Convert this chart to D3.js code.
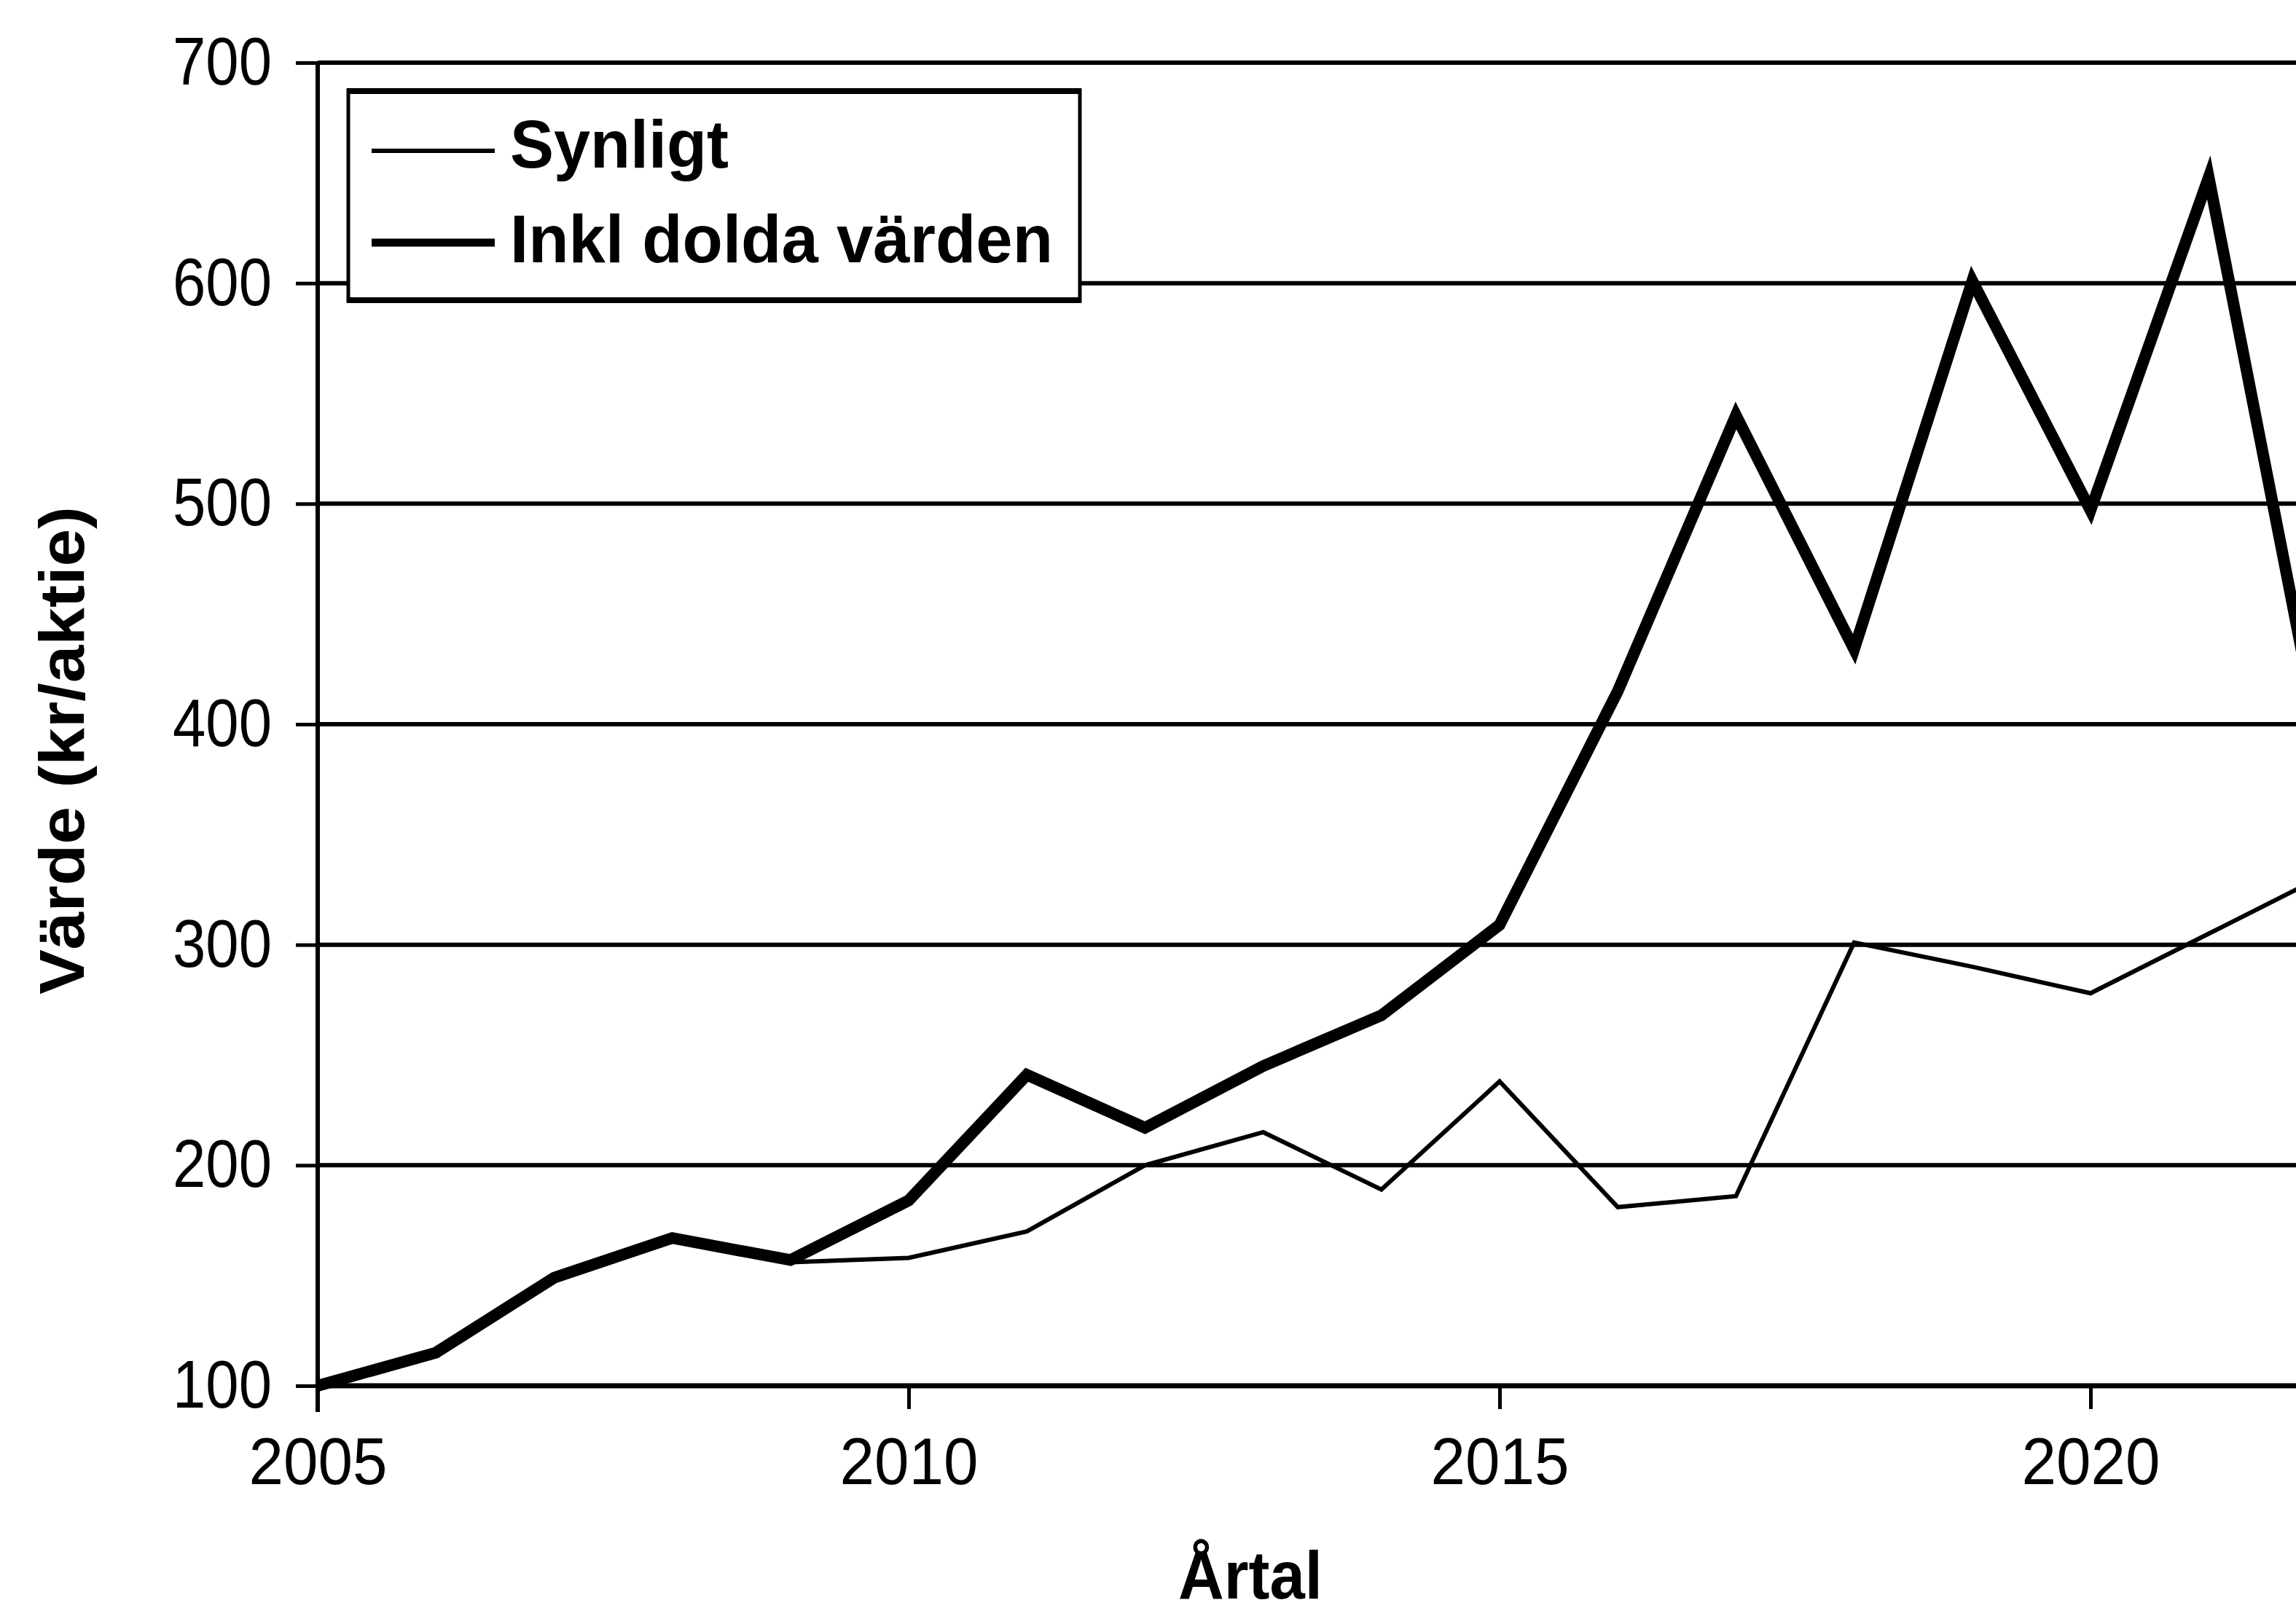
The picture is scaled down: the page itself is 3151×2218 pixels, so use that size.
<!DOCTYPE html>
<html>
<head>
<meta charset="utf-8">
<script src="https://cdn.jsdelivr.net/npm/d3@7"></script>
<style>
  html, body { margin: 0; padding: 0; background: #fff; }
  svg { display: block; }
  text { font-family: "Liberation Sans", Arial, sans-serif; fill: #000; }
</style>
</head>
<body>
<script>
// ---- data ----
const years = [2005, 2006, 2007, 2008, 2009, 2010, 2011, 2012, 2013, 2014, 2015, 2016, 2017, 2018, 2019, 2020, 2021, 2022];
const synligt = [100, 114, 150, 167, 156, 158, 170, 200, 215, 189, 238, 181, 186, 301, 290, 278, 305, 332];
const inklDolda = [100, 115, 149, 167, 157, 184, 241, 217, 245, 268, 309, 415, 540, 434, 601, 497, 648, 375];
const seriesNames = ["Synligt", "Inkl dolda värden"];
const yTicks = [100, 200, 300, 400, 500, 600, 700];
const xTicks = [2005, 2010, 2015, 2020];
const xTitle = "Årtal";
const yTitle = "Värde (kr/aktie)";

// ---- layout ----
const W = 3151, H = 2218;
const x = d3.scaleLinear().domain([2005, 2025]).range([436, 436 + 20 * 162.2]);
const y = d3.scaleLinear().domain([100, 700]).range([1902, 86]);

const svg = d3.select("body").append("svg").attr("width", W).attr("height", H);

// gridlines
svg.append("g").selectAll("line").data(yTicks.filter(v => v > 100)).join("line")
  .attr("x1", x(2005)).attr("x2", W)
  .attr("y1", d => y(d)).attr("y2", d => y(d))
  .attr("stroke", "#000").attr("stroke-width", 6);

// data lines
const line = d3.line().x(d => x(d[0])).y(d => y(d[1]));
svg.append("path").datum(years.map((yr, i) => [yr, synligt[i]]))
  .attr("d", line).attr("fill", "none").attr("stroke", "#000")
  .attr("stroke-width", 6).attr("stroke-linejoin", "miter");
svg.append("path").datum(years.map((yr, i) => [yr, inklDolda[i]]))
  .attr("d", line).attr("fill", "none").attr("stroke", "#000")
  .attr("stroke-width", 16).attr("stroke-linejoin", "miter");

// y axis
const gy = svg.append("g").attr("transform", `translate(${x(2005)},0)`)
  .call(d3.axisLeft(y).tickValues(yTicks).tickSize(30).tickPadding(33).tickFormat(d3.format("d")));
gy.select(".domain").remove();
gy.selectAll(".tick line").attr("stroke", "#000").attr("stroke-width", 5);
gy.selectAll(".tick text").attr("font-size", 92).attr("font-family", "Liberation Sans, Arial, sans-serif")
  .attr("textLength", 136).attr("lengthAdjust", "spacingAndGlyphs").attr("fill", "#000");
svg.append("line").attr("x1", x(2005)).attr("x2", x(2005))
  .attr("y1", y(700)).attr("y2", y(100) + 36)
  .attr("stroke", "#000").attr("stroke-width", 6);

// x axis
const gx = svg.append("g").attr("transform", `translate(0,${y(100)})`)
  .call(d3.axisBottom(x).tickValues(xTicks).tickSize(32).tickPadding(39).tickFormat(d3.format("d")));
gx.select(".domain").remove();
gx.selectAll(".tick line").attr("stroke", "#000").attr("stroke-width", 5);
gx.selectAll(".tick text").attr("font-size", 90).attr("font-family", "Liberation Sans, Arial, sans-serif")
  .attr("textLength", 190).attr("lengthAdjust", "spacingAndGlyphs").attr("fill", "#000");
svg.append("line").attr("x1", x(2005)).attr("x2", W)
  .attr("y1", y(100)).attr("y2", y(100))
  .attr("stroke", "#000").attr("stroke-width", 7);

// axis titles
svg.append("text").attr("transform", "translate(115,1030) rotate(-90)")
  .attr("text-anchor", "middle").attr("font-size", 88).attr("font-weight", "bold")
  .attr("textLength", 670).attr("lengthAdjust", "spacingAndGlyphs").text(yTitle);
svg.append("text").attr("x", 1716).attr("y", 2194)
  .attr("text-anchor", "middle").attr("font-size", 93).attr("font-weight", "bold")
  .attr("textLength", 198).attr("lengthAdjust", "spacingAndGlyphs").text(xTitle);

// legend
const lg = svg.append("g");
lg.append("rect").attr("x", 478).attr("y", 124).attr("width", 1004).attr("height", 289)
  .attr("fill", "#fff").attr("stroke", "#000").attr("stroke-width", 5);
// heavier top and bottom edges of the legend frame
lg.append("line").attr("x1", 476).attr("x2", 1484).attr("y1", 125).attr("y2", 125)
  .attr("stroke", "#000").attr("stroke-width", 8);
lg.append("line").attr("x1", 476).attr("x2", 1484).attr("y1", 412).attr("y2", 412)
  .attr("stroke", "#000").attr("stroke-width", 8);
const legendItems = [
  { name: seriesNames[0], sw: 6, ly: 207, ty: 230, tl: 300 },
  { name: seriesNames[1], sw: 11, ly: 333, ty: 360, tl: 745 }
];
legendItems.forEach(it => {
  lg.append("line").attr("x1", 510).attr("x2", 679).attr("y1", it.ly).attr("y2", it.ly)
    .attr("stroke", "#000").attr("stroke-width", it.sw);
  lg.append("text").attr("x", 700).attr("y", it.ty).attr("font-size", 93).attr("font-weight", "bold")
    .attr("textLength", it.tl).attr("lengthAdjust", "spacingAndGlyphs").text(it.name);
});
</script>
</body>
</html>
